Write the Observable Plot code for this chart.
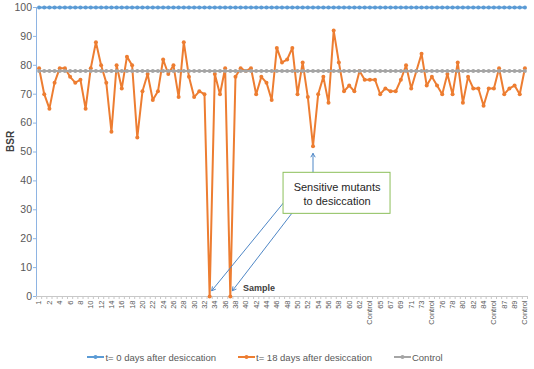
<!DOCTYPE html>
<html><head><meta charset="utf-8">
<script src="https://cdn.jsdelivr.net/npm/d3@7"></script>
<script src="https://cdn.jsdelivr.net/npm/@observablehq/plot@0.6"></script>
<style>
body{margin:0;background:#fff;font-family:"Liberation Sans",Arial,sans-serif;width:534px;overflow:hidden}
#legend{display:flex;justify-content:center;align-items:center;gap:22px;height:24px;font-size:9.5px;color:#595959;padding-right:4px}
#legend span.item{display:flex;align-items:center;gap:1px;white-space:nowrap}
</style></head><body>
<div id="chart"></div>
<div id="legend"></div>
<script>
// Series values (index = sample position along the x axis)
const t0 = [
100,100,100,100,100,100,100,100,100,100,100,100,100,100,100,100,100,100,100,
100,100,100,100,100,100,100,100,100,100,100,100,100,100,100,100,100,100,100,
100,100,100,100,100,100,100,100,100,100,100,100,100,100,100,100,100,100,100,
100,100,100,100,100,100,100,100,100,100,100,100,100,100,100,100,100,100,100,
100,100,100,100,100,100,100,100,100,100,100,100,100,100,100,100,100,100,100];
const t18 = [
79,70,65,74,79,79,76,74,75,65,79,88,80,74,57,80,72,83,80,
55,71,77,68,71,82,77,80,69,88,76,69,71,70,0,77,70,79,0,
76,79,78,79,70,76,74,68,86,81,82,86,70,81,69,52,70,76,67,
92,81,71,73,71,78,75,75,75,70,72,71,71,75,80,72,78,84,73,
76,73,70,77,70,81,67,76,72,72,66,72,72,79,70,72,73,70,79];
const control = [
78,78,78,78,78,78,78,78,78,78,78,78,78,78,78,78,78,78,78,
78,78,78,78,78,78,78,78,78,78,78,78,78,78,78,78,78,78,78,
78,78,78,78,78,78,78,78,78,78,78,78,78,78,78,78,78,78,78,
78,78,78,78,78,78,78,78,78,78,78,78,78,78,78,78,78,78,78,
78,78,78,78,78,78,78,78,78,78,78,78,78,78,78,78,78,78,78];
// Tick labels shown on the x axis (every second sample)
const xTickLabels = ["1","2","4","6","8","10","12","14","16","18","20","22","24","26","28","30","32",
"34","36","38","40","42","44","46","48","50","52","54","56","58","60","62","Control","65","67","69","71","73",
"Control","76","78","80","82","84","Control","87","89","Control"];
const yTicks = [0,10,20,30,40,50,60,70,80,90,100];
const seriesNames = ["t= 0 days after desiccation","t= 18 days after desiccation","Control"];
const seriesColors = ["#5b9bd5","#ed7d31","#a5a5a5"];
// Annotation: sensitive mutants (sample positions) and callout box (data coords)
const sensitive = [33, 37, 53];
const calloutText = "Sensitive mutants\nto desiccation";
const calloutBox = {x1: 47.3, x2: 68.0, y1: 28.6, y2: 42.8};
const arrowStarts = [{x: 47.6, y: 33.1}, {x: 49.0, y: 29.0}, {x: 53, y: 42.8}];

const n = t18.length;
const rows = t18.map((v, i) => ({i, t0: t0[i], t18: v, control: control[i]}));
const arrows = sensitive.map((s, k) => ({
  x1: arrowStarts[k].x, y1: arrowStarts[k].y,
  x2: k < 2 ? s + 0.4 : s, y2: k < 2 ? 2 : t18[s] - 2.5
}));
const boundaries = d3.range(-0.5, n, 1);

const font = '"Liberation Sans", Arial, sans-serif';
const chart = Plot.plot({
  width: 534, height: 345,
  marginLeft: 36, marginRight: 7, marginTop: 7, marginBottom: 49,
  style: {fontFamily: font, background: "#fff"},
  x: {domain: [-0.5, n - 0.5]},
  y: {domain: [0, 100]},
  marks: [
    Plot.axisY({ticks: yTicks, tickSize: 3, tickPadding: 1.5, fontSize: 10.5, fill: "#595959", stroke: "#8eb4e3", label: null}),
    Plot.axisX({ticks: boundaries, tickSize: 3, tickFormat: () => "", stroke: "#c8c8c8", label: null}),
    Plot.axisX({ticks: xTickLabels.map((_, k) => 2 * k), tickFormat: v => xTickLabels[Math.round(v / 2)],
      tickRotate: -90, tickSize: 0, tickPadding: 4, fontSize: 7.5, fill: "#595959", label: null}),
    Plot.ruleY([0], {stroke: "#c8c8c8"}),
    Plot.ruleX([-0.5], {stroke: "#8eb4e3"}),
    Plot.text(["BSR"], {frameAnchor: "left", dx: -26, rotate: -90, fontWeight: "bold", fontSize: 10, fill: "#404040"}),
    Plot.text(["Sample"], {frameAnchor: "bottom", dx: -23, dy: -6, fontWeight: "bold", fontSize: 9, fill: "#404040"}),
    Plot.line(rows, {x: "i", y: "t0", stroke: seriesColors[0], strokeWidth: 2}),
    Plot.dot(rows, {x: "i", y: "t0", r: 2, fill: seriesColors[0]}),
    Plot.line(rows, {x: "i", y: "t18", stroke: seriesColors[1], strokeWidth: 2}),
    Plot.dot(rows, {x: "i", y: "t18", r: 2, fill: seriesColors[1]}),
    Plot.line(rows, {x: "i", y: "control", stroke: seriesColors[2], strokeWidth: 2}),
    Plot.dot(rows, {x: "i", y: "control", r: 2, fill: seriesColors[2]}),
    Plot.arrow(arrows, {x1: "x1", y1: "y1", x2: "x2", y2: "y2", stroke: "#4f87c6", strokeWidth: 1, headLength: 6}),
    Plot.rect([calloutBox], {x1: "x1", x2: "x2", y1: "y1", y2: "y2", fill: "white", stroke: "#8cbf5a", strokeWidth: 1}),
    Plot.text([calloutBox], {x: d => (d.x1 + d.x2) / 2, y: d => (d.y1 + d.y2) / 2, text: () => calloutText,
      fontSize: 11, lineHeight: 1.25, fill: "#262626"})
  ]
});
document.getElementById("chart").appendChild(chart);

const legend = document.getElementById("legend");
seriesNames.forEach((name, k) => {
  const item = document.createElement("span");
  item.className = "item";
  item.innerHTML = `<svg width="17" height="8"><line x1="0" y1="4" x2="17" y2="4" stroke="${seriesColors[k]}" stroke-width="2"/><circle cx="8.5" cy="4" r="2" fill="${seriesColors[k]}"/></svg><span>${name}</span>`;
  legend.appendChild(item);
});
</script>
</body></html>
